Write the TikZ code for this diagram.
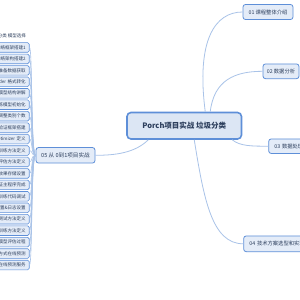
\documentclass[tikz,border=0pt]{standalone}
\usepackage{fontspec}
\setmainfont{Noto Sans CJK SC}
\definecolor{edge}{HTML}{A9C3E8}
\definecolor{bordr}{HTML}{5E8FD8}
\definecolor{fillc}{HTML}{E4ECF8}
\definecolor{rootfill}{HTML}{DCE6F4}
\definecolor{txt}{HTML}{2C3E5C}
\tikzset{
  conn/.style={draw=edge, line width=0.8pt},
  topic/.style={draw=bordr, fill=fillc, rounded corners=2.5pt, line width=0.8pt, text=txt,
    font=\fontsize{5.3}{6}\selectfont, inner sep=0pt},
  leaf/.style={draw=bordr, fill=fillc, rounded corners=1.5pt, line width=0.6pt, text=txt,
    font=\fontsize{4.5}{5}\selectfont, minimum height=9.6pt, inner xsep=3.5pt, inner ysep=0pt, anchor=east},
  plainleaf/.style={text=txt, font=\fontsize{4.5}{5}\selectfont, minimum height=9.6pt, inner xsep=3.5pt, inner ysep=0pt, anchor=east},
  rootbox/.style={draw=bordr, fill=rootfill, rounded corners=4pt, line width=1.6pt, text=txt,
    font=\bfseries\fontsize{7.5}{9}\selectfont, inner sep=0pt}
}
\begin{document}
\begin{tikzpicture}[x=1pt,y=-1pt]
\useasboundingbox[fill=white] (0,0) rectangle (300,300);
\clip (0,0) rectangle (300,300);

% main node and topics
\node[rootbox, minimum width=114.5pt, minimum height=26.5pt] (root) at (184.25,125.75) {Porch项目实战 垃圾分类};
\node[topic, minimum width=50pt, minimum height=15pt] (n01) at (268,12) {01 课程整体介绍};
\node[topic, minimum width=36pt, minimum height=14.7pt] (n02) at (281,71.3) {02 数据分析};
\node[topic, anchor=west, minimum height=14.5pt, inner xsep=5.7pt, text width=60pt, align=left] (n03) at (268.3,146.2) {03 数据处理};
\node[topic, anchor=west, minimum height=15.7pt, inner xsep=5.7pt, text width=90pt, align=left] (n04) at (243.3,243.8) {04 技术方案选型和实现};
\node[topic, minimum width=59pt, minimum height=15.5pt, font=\fontsize{5.6}{6.5}\selectfont] (n05) at (65.5,155.3) {05 从 0到1项目实战};

% connectors from the main node
\draw[conn] ([xshift=21pt]root.north) .. controls (196,40) and (215,12) .. (n01.west);
\draw[conn] ([xshift=26pt]root.north) .. controls (214,80) and (235,71.3) .. (n02.west);
\draw[conn] ([xshift=48pt]root.south) .. controls (240,146.2) and (252,146.2) .. (n03.west);
\draw[conn] ([xshift=10pt]root.south) .. controls (204,200) and (212,243.8) .. (n04.west);
\draw[conn] ([xshift=-36pt]root.south) .. controls (135,153) and (115,155.3) .. (n05.east);

% leaves of 05
\node[plainleaf] (c1) at (29.5,36) {垃圾分类 模型选择};
\foreach \i/\t in {
  2/网络框架搭建1,
  3/网络架构搭建2,
  4/准备数据获取,
  5/DataLoader 格式转化,
  6/模型结构讲解,
  7/预训练模型初始化,
  8/调整类别个数,
  9/训练验证框架搭建,
  10/Optimizer 定义,
  11/训练方法定义,
  12/评估方法定义,
  13/最优效果存储设置,
  14/训练验证主程序完成,
  15/训练代码调试,
  16/设置\&日志设置,
  17/测试方法定义,
  18/训练方法定义,
  19/模型评估过程,
  20/Flask方式在线预测,
  21/搭建在线预测服务}{
  \pgfmathsetmacro{\yy}{36+11.45*(\i-1)}
  \node[leaf, text width=70pt, align=right] (c\i) at (29.5,\yy) {\t};
  \draw[conn, line width=0.6pt] (n05.west) .. controls (31,155.3) and (32.5,\yy) .. (c\i.east);
}
\end{tikzpicture}
\end{document}
